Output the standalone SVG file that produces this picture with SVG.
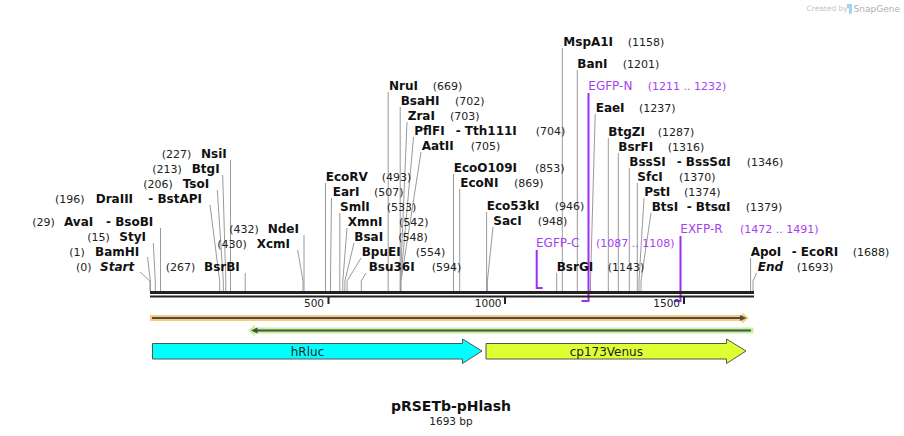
<svg xmlns="http://www.w3.org/2000/svg" width="904" height="436" viewBox="0 0 904 436">
<style>
.n{font-family:"DejaVu Sans",Verdana,sans-serif;font-weight:bold;font-size:12px;fill:#111}
.i{font-style:italic}
.p{font-family:"DejaVu Sans",Verdana,sans-serif;font-size:11px;fill:#222}
.pr{font-family:"DejaVu Sans",Verdana,sans-serif;font-size:12px;fill:#a63ff2}
.prn{font-family:"DejaVu Sans",Verdana,sans-serif;font-size:11px;fill:#a63ff2}
.tk{font-family:"DejaVu Sans",Verdana,sans-serif;font-size:10.5px;fill:#222;text-anchor:end}
.cut{stroke:#9a9a9a;stroke-width:1;fill:none}
.prl{stroke:#9f2ff0;stroke-width:2;fill:none}
.feat{stroke:#555;stroke-width:1}
.fl{font-family:"DejaVu Sans",Verdana,sans-serif;font-size:12px;fill:#222;text-anchor:middle}
</style>

<g id="watermark">
<text x="806.5" y="11" font-family="DejaVu Sans, sans-serif" font-size="7.5" fill="#c4c4c4">Created by</text>
<path d="M847 4 h5 v9 q-1 1 -3 1 v-6 h-2 z" fill="#9fd4f7"/>
<text x="900" y="12" text-anchor="end" font-family="DejaVu Sans, sans-serif" font-size="9" fill="#b0b0b0">SnapGene</text>
</g>

<g id="connectors">
<path class="cut" d="M230.5 160V291"/>
<path class="cut" d="M222.7 175L225.8 281V291"/>
<path class="cut" d="M217.3 190L223.3 281V291"/>
<path class="cut" d="M210 205L219.7 281V291"/>
<path class="cut" d="M160.5 228V291"/>
<path class="cut" d="M153.3 243L155.3 281V291"/>
<path class="cut" d="M147.5 257L150.4 281V291"/>
<path class="cut" d="M140 272L150 281V291"/>
<path class="cut" d="M245.2 273V291"/>
<path class="cut" d="M304 235V291"/>
<path class="cut" d="M297.7 250L303 281V291"/>
<path class="cut" d="M388.2 92V291"/>
<path class="cut" d="M400.2 107V291"/>
<path class="cut" d="M407 122L400.4 281V291"/>
<path class="cut" d="M413.5 137L400.7 281V291"/>
<path class="cut" d="M421 152L401 281V291"/>
<path class="cut" d="M325.5 183V291"/>
<path class="cut" d="M331.5 198L330.5 281V291"/>
<path class="cut" d="M339.8 213V291"/>
<path class="cut" d="M347 228L342.8 281V291"/>
<path class="cut" d="M354 243L344.9 281V291"/>
<path class="cut" d="M361 258L347.1 281V291"/>
<path class="cut" d="M366 273L361.3 281V291"/>
<path class="cut" d="M453.5 174V291"/>
<path class="cut" d="M459.7 189V291"/>
<path class="cut" d="M486.6 212V291"/>
<path class="cut" d="M493 227L487.4 281V291"/>
<path class="cut" d="M562.3 48V291"/>
<path class="cut" d="M577.3 70V291"/>
<path class="cut" d="M595.2 114L590.5 281V291"/>
<path class="cut" d="M608.3 138V291"/>
<path class="cut" d="M618.3 153V291"/>
<path class="cut" d="M629.3 168V291"/>
<path class="cut" d="M637.3 183V291"/>
<path class="cut" d="M644 198L639 281V291"/>
<path class="cut" d="M651 213L641 281V291"/>
<path class="cut" d="M556.7 273V291"/>
<path class="cut" d="M750.6 258V291"/>
<path class="cut" d="M756.7 273L753 281V291"/>
<path class="prl" d="M536.7 250V288H542.7"/>
<path class="prl" d="M588.5 93V301H581.5"/>
<path class="prl" d="M680.5 236V301H674"/>
</g>

<g id="sequence">
<rect x="150" y="291" width="604" height="3" fill="#222"/>
<rect x="150" y="295.5" width="604" height="2" fill="#222"/>
<rect x="327.5" y="297" width="2" height="7" fill="#222"/>
<rect x="504" y="297" width="2" height="7" fill="#222"/>
<rect x="683" y="297" width="2" height="7" fill="#222"/>
<text class="tk" x="324" y="307">500</text>
<text class="tk" x="501.5" y="307">1000</text>
<text class="tk" x="680" y="307">1500</text>
</g>

<g id="site-NsiI"><text class="p" x="161.7" y="158">(227)</text><text class="n" x="201" y="158">NsiI</text></g>
<g id="site-BtgI"><text class="p" x="152.3" y="173">(213)</text><text class="n" x="191.7" y="173">BtgI</text></g>
<g id="site-TsoI"><text class="p" x="143.3" y="188">(206)</text><text class="n" x="182.7" y="188">TsoI</text></g>
<g id="site-DraIII"><text class="p" x="55" y="203">(196)</text><text class="n" x="95.7" y="203">DraIII</text><text class="n" x="148.3" y="203">- BstAPI</text></g>
<g id="site-AvaI"><text class="p" x="32.3" y="226">(29)</text><text class="n" x="64" y="226">AvaI</text><text class="n" x="106" y="226">- BsoBI</text></g>
<g id="site-StyI"><text class="p" x="87.3" y="241">(15)</text><text class="n" x="119.3" y="241">StyI</text></g>
<g id="site-BamHI"><text class="p" x="69.3" y="256">(1)</text><text class="n" x="95" y="256">BamHI</text></g>
<g id="site-Start"><text class="p" x="76" y="271">(0)</text><text class="n i" x="100" y="271">Start</text></g>
<g id="site-BsrBI"><text class="p" x="165.7" y="271">(267)</text><text class="n" x="204" y="271">BsrBI</text></g>
<g id="site-NdeI"><text class="p" x="229.3" y="233">(432)</text><text class="n" x="267.7" y="233">NdeI</text></g>
<g id="site-XcmI"><text class="p" x="217.3" y="248">(430)</text><text class="n" x="256.7" y="248">XcmI</text></g>

<g id="site-NruI"><text class="n" x="389" y="90">NruI</text><text class="p" x="432.7" y="90">(669)</text></g>
<g id="site-BsaHI"><text class="n" x="400.7" y="105">BsaHI</text><text class="p" x="455" y="105">(702)</text></g>
<g id="site-ZraI"><text class="n" x="407.7" y="120">ZraI</text><text class="p" x="450" y="120">(703)</text></g>
<g id="site-PflFI"><text class="n" x="414.3" y="135">PflFI</text><text class="n" x="455.7" y="135">- Tth111I</text><text class="p" x="535.7" y="135">(704)</text></g>
<g id="site-AatII"><text class="n" x="421.7" y="150">AatII</text><text class="p" x="470.7" y="150">(705)</text></g>
<g id="site-EcoRV"><text class="n" x="325.7" y="181">EcoRV</text><text class="p" x="381.7" y="181">(493)</text></g>
<g id="site-EarI"><text class="n" x="332.7" y="196">EarI</text><text class="p" x="374" y="196">(507)</text></g>
<g id="site-SmlI"><text class="n" x="340" y="211">SmlI</text><text class="p" x="386.7" y="211">(533)</text></g>
<g id="site-XmnI"><text class="n" x="347.7" y="226">XmnI</text><text class="p" x="399" y="226">(542)</text></g>
<g id="site-BsaI"><text class="n" x="354.3" y="241">BsaI</text><text class="p" x="398.3" y="241">(548)</text></g>
<g id="site-BpuEI"><text class="n" x="361.7" y="256">BpuEI</text><text class="p" x="415.7" y="256">(554)</text></g>
<g id="site-Bsu36I"><text class="n" x="368.7" y="271">Bsu36I</text><text class="p" x="431.7" y="271">(594)</text></g>
<g id="site-EcoO109I"><text class="n" x="453.7" y="172">EcoO109I</text><text class="p" x="535" y="172">(853)</text></g>
<g id="site-EcoNI"><text class="n" x="460.3" y="187">EcoNI</text><text class="p" x="514" y="187">(869)</text></g>
<g id="site-Eco53kI"><text class="n" x="486.7" y="210">Eco53kI</text><text class="p" x="554.7" y="210">(946)</text></g>
<g id="site-SacI"><text class="n" x="493.3" y="225">SacI</text><text class="p" x="537.7" y="225">(948)</text></g>

<g id="site-MspA1I"><text class="n" x="563.3" y="46">MspA1I</text><text class="p" x="627.7" y="46">(1158)</text></g>
<g id="site-BanI"><text class="n" x="577.3" y="68">BanI</text><text class="p" x="622.7" y="68">(1201)</text></g>
<g id="site-EaeI"><text class="n" x="595.7" y="112">EaeI</text><text class="p" x="639" y="112">(1237)</text></g>
<g id="site-BtgZI"><text class="n" x="608.3" y="136">BtgZI</text><text class="p" x="657.7" y="136">(1287)</text></g>
<g id="site-BsrFI"><text class="n" x="618.3" y="151">BsrFI</text><text class="p" x="667.7" y="151">(1316)</text></g>
<g id="site-BssSI"><text class="n" x="629.3" y="166">BssSI</text><text class="n" x="676.7" y="166">- BssSαI</text><text class="p" x="746.7" y="166">(1346)</text></g>
<g id="site-SfcI"><text class="n" x="637.3" y="181">SfcI</text><text class="p" x="679" y="181">(1370)</text></g>
<g id="site-PstI"><text class="n" x="644.3" y="196">PstI</text><text class="p" x="684" y="196">(1374)</text></g>
<g id="site-BtsI"><text class="n" x="651.7" y="211">BtsI</text><text class="n" x="686.7" y="211">- BtsαI</text><text class="p" x="745.7" y="211">(1379)</text></g>
<g id="site-BsrGI"><text class="n" x="556.7" y="271">BsrGI</text><text class="p" x="607.7" y="271">(1143)</text></g>
<g id="site-ApoI"><text class="n" x="750.7" y="256">ApoI</text><text class="n" x="791.7" y="256">- EcoRI</text><text class="p" x="852.7" y="256">(1688)</text></g>
<g id="site-End"><text class="n i" x="757.7" y="271">End</text><text class="p" x="796.7" y="271">(1693)</text></g>

<g id="primer-EGFP-N"><text class="pr" x="588.3" y="90">EGFP-N</text><text class="prn" x="647.7" y="90">(1211 .. 1232)</text></g>
<g id="primer-EGFP-C"><text class="pr" x="536" y="247">EGFP-C</text><text class="prn" x="596" y="247">(1087 .. 1108)</text></g>
<g id="primer-EXFP-R"><text class="pr" x="680.3" y="233">EXFP-R</text><text class="prn" x="740" y="233">(1472 .. 1491)</text></g>

<g id="orf-forward">
<path d="M150 315H742V312.5L749 318L742 323.5V321H150Z" fill="#fcc97c"/>
<rect x="152" y="317" width="589" height="2" fill="#4d4d4d"/>
<path d="M740 315L746.5 318L740 321Z" fill="#4d4d4d"/>
</g>
<g id="orf-reverse">
<path d="M753.5 327.5H255V324.5L248 330.5L255 336.5V333.5H753.5Z" fill="#c2f59a"/>
<rect x="256" y="329.5" width="495" height="2" fill="#4d4d4d"/>
<path d="M257.5 327.5L251 330.5L257.5 333.5Z" fill="#4d4d4d"/>
</g>

<g id="feature-hRluc">
<path class="feat" d="M152.5 343.5H462.5V339L482 351L462.5 363.5V359H152.5Z" fill="#00ffff"/>
<text class="fl" x="307.5" y="355.5">hRluc</text>
</g>
<g id="feature-cp173Venus">
<path class="feat" d="M486 343.5H726.5V339L746 351L726.5 363.5V359H486Z" fill="#dfff33"/>
<text class="fl" x="606.3" y="355.5">cp173Venus</text>
</g>

<g id="title">
<text x="451" y="411" text-anchor="middle" font-family="DejaVu Sans, Verdana, sans-serif" font-weight="bold" font-size="14" fill="#111">pRSETb-pHlash</text>
<text x="451" y="425" text-anchor="middle" font-family="DejaVu Sans, Verdana, sans-serif" font-size="10.5" fill="#222">1693 bp</text>
</g>
</svg>
